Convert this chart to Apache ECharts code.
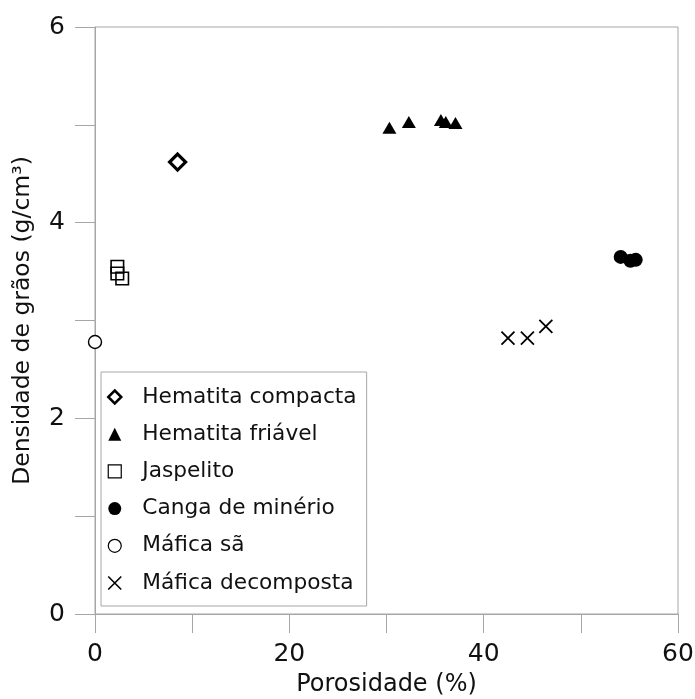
<!DOCTYPE html>
<html>
<head>
<meta charset="utf-8">
<script src="https://cdn.jsdelivr.net/npm/echarts@6/dist/echarts.min.js"></script>
<style>
  html, body { margin: 0; padding: 0; background: #fff; }
  #chart { width: 695px; height: 699px; }
</style>
</head>
<body>
<div id="chart"></div>
<script>
// Porosity (%) vs grain density (g/cm³) per rock type
const hematitaCompacta = [[8.5, 4.62]];
const hematitaFriavel = [[30.3, 4.97], [32.3, 5.03], [35.6, 5.05], [36.1, 5.03], [37.1, 5.02]];
const jaspelito = [[2.3, 3.55], [2.3, 3.48], [2.8, 3.43]];
const cangaMinerio = [[54.1, 3.65], [55.1, 3.61], [55.65, 3.62]];
const maficaSa = [[0, 2.78]];
const maficaDecomposta = [[42.5, 2.82], [44.5, 2.82], [46.4, 2.94]];

const seriesNames = ['Hematita compacta', 'Hematita friável', 'Jaspelito',
  'Canga de minério', 'Máfica sã', 'Máfica decomposta'];
const xTickLabels = [0, 20, 40, 60];
const yTickLabels = [0, 2, 4, 6];

const FONT = 'DejaVu Sans';
const AXIS_GREY = '#a6a6a6';
const CROSS = 'path://M0 0L10 10M10 0L0 10';

const chart = echarts.init(document.getElementById('chart'), null, { renderer: 'canvas' });

chart.setOption({
  animation: false,
  backgroundColor: '#fff',
  textStyle: { fontFamily: FONT, color: '#111' },
  grid: {
    left: 95, right: 17, top: 27, bottom: 85,
    containLabel: false, outerBoundsMode: 'none',
    show: true, borderColor: AXIS_GREY, borderWidth: 1, backgroundColor: 'transparent'
  },
  xAxis: {
    type: 'value', min: 0, max: 60, interval: 10,
    name: 'Porosidade (%)', nameLocation: 'middle', nameGap: 59,
    nameTextStyle: { fontFamily: FONT, fontSize: 24, color: '#111' },
    axisLine: { show: true, lineStyle: { color: AXIS_GREY, width: 1 } },
    axisTick: { show: true, inside: false, length: 19, lineStyle: { color: AXIS_GREY, width: 1 } },
    axisLabel: {
      margin: 28, fontFamily: FONT, fontSize: 25, color: '#111',
      formatter: v => (xTickLabels.indexOf(v) >= 0 ? String(v) : '')
    },
    splitLine: { show: false }
  },
  yAxis: {
    type: 'value', min: 0, max: 6, interval: 1,
    name: 'Densidade de grãos (g/cm³)', nameLocation: 'middle', nameGap: 60,
    nameTextStyle: { fontFamily: FONT, fontSize: 23.5, color: '#111' },
    axisLine: { show: true, lineStyle: { color: AXIS_GREY, width: 1 } },
    axisTick: { show: true, inside: false, length: 20, lineStyle: { color: AXIS_GREY, width: 1 } },
    axisLabel: {
      margin: 30, fontFamily: FONT, fontSize: 25, color: '#111',
      formatter: v => (yTickLabels.indexOf(v) >= 0 ? String(v) : '')
    },
    splitLine: { show: false }
  },
  legend: {
    orient: 'vertical',
    left: 101, top: 372,
    padding: [14, 10, 12, 6],
    itemGap: 15.2,
    itemWidth: 13, itemHeight: 13,
    borderColor: AXIS_GREY, borderWidth: 1, borderRadius: 0,
    backgroundColor: '#fff',
    textStyle: { fontFamily: FONT, fontSize: 21.7, color: '#111', padding: [0, 0, 0, 16] },
    data: [
      { name: seriesNames[0], icon: 'diamond', itemStyle: { color: '#fff', borderColor: '#000', borderWidth: 2.5 } },
      { name: seriesNames[1], icon: 'triangle', itemStyle: { color: '#000', borderWidth: 0 } },
      { name: seriesNames[2], icon: 'rect', itemStyle: { color: '#fff', borderColor: '#000', borderWidth: 1.2 } },
      { name: seriesNames[3], icon: 'circle', itemStyle: { color: '#000', borderWidth: 0 } },
      { name: seriesNames[4], icon: 'circle', itemStyle: { color: '#fff', borderColor: '#000', borderWidth: 1.2 } },
      { name: seriesNames[5], icon: CROSS, itemStyle: { color: 'transparent', borderColor: '#000', borderWidth: 1.6 } }
    ]
  },
  series: [
    {
      name: seriesNames[0], type: 'scatter', data: hematitaCompacta,
      symbol: 'diamond', symbolSize: 16,
      itemStyle: { color: '#fff', borderColor: '#000', borderWidth: 3.2, opacity: 1 }
    },
    {
      name: seriesNames[1], type: 'scatter', data: hematitaFriavel,
      symbol: 'triangle', symbolSize: [14, 12],
      itemStyle: { color: '#000', borderWidth: 0, opacity: 1 }
    },
    {
      name: seriesNames[2], type: 'scatter', data: jaspelito,
      symbol: 'rect', symbolSize: 12.5,
      itemStyle: { color: 'transparent', borderColor: '#000', borderWidth: 1.6, opacity: 1 }
    },
    {
      name: seriesNames[3], type: 'scatter', data: cangaMinerio,
      symbol: 'circle', symbolSize: 14,
      itemStyle: { color: '#000', borderWidth: 0, opacity: 1 }
    },
    {
      name: seriesNames[4], type: 'scatter', data: maficaSa,
      symbol: 'circle', symbolSize: 13,
      itemStyle: { color: '#fff', borderColor: '#000', borderWidth: 1.4, opacity: 1 }
    },
    {
      name: seriesNames[5], type: 'scatter', data: maficaDecomposta,
      symbol: CROSS, symbolSize: 13,
      itemStyle: { color: 'transparent', borderColor: '#000', borderWidth: 1.8, opacity: 1 }
    }
  ]
});
</script>
</body>
</html>
